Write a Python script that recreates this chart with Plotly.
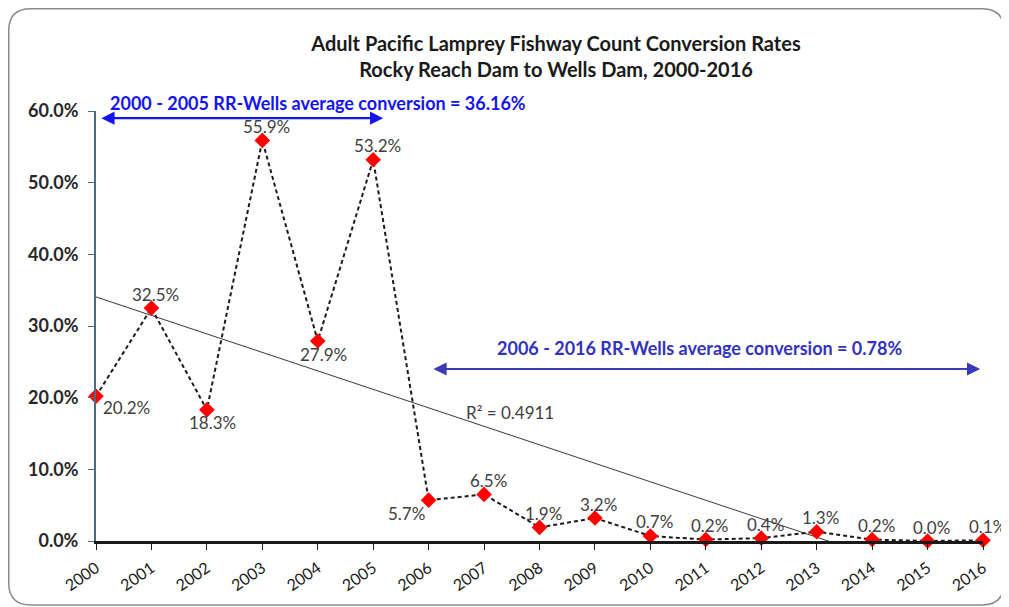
import numpy as np
import plotly.graph_objects as go

years = list(range(2000, 2017))
rates = [20.2, 32.5, 18.3, 55.9, 27.9, 53.2, 5.7, 6.5, 1.9, 3.2, 0.7, 0.2, 0.4, 1.3, 0.2, 0.0, 0.1]
labels = [f"{v:.1f}%" for v in rates]
label_pos = ["bottom right", "top", "bottom", "top", "bottom", "top",
             "bottom left", "top", "top", "top", "top", "top",
             "top", "top", "top", "top", "top"]
y_ticks = [0, 10, 20, 30, 40, 50, 60]
y_tick_text = [f"{t:.1f}%" for t in y_ticks]

title_lines = ["Adult Pacific Lamprey Fishway Count Conversion Rates", "Rocky Reach Dam to Wells Dam, 2000-2016"]
note1 = "2000 - 2005 RR-Wells average conversion = 36.16%"
note2 = "2006 - 2016 RR-Wells average conversion = 0.78%"
r2_text = "R² = 0.4911"

FONT = "Lato, Open Sans, sans-serif"

W, H = 1001, 599
L, R, T, B = 88, 26, 103, 66
PW, PH = W - L - R, H - T - B

def px(xp):
    return (xp - L) / PW

def py(yp):
    return 1 - (yp - T) / PH

x = np.array(years, dtype=float)
slope, intercept = np.polyfit(x, np.array(rates), 1)
trend = slope * x + intercept

fig = go.Figure()
fig.add_trace(go.Scatter(x=years, y=list(trend), mode="lines",
                         line=dict(color="#3a3a3a", width=1), hoverinfo="skip", showlegend=False))
fig.add_trace(go.Scatter(x=years, y=rates, mode="lines+markers",
                         line=dict(color="#1a1a1a", width=2, dash="4px,3px"),
                         marker=dict(symbol="diamond", color="#ff0000", size=12),
                         cliponaxis=False, showlegend=False))

shifts = {"top": (4, 14), "bottom": (6, -13), "bottom right": (30, -11), "bottom left": (-22, -13)}
for yr, v, lab, pos in zip(years, rates, labels, label_pos):
    dx, dy = shifts[pos]
    fig.add_annotation(x=yr, y=v, xref="x", yref="y", text=lab, showarrow=False,
                       xanchor="center", yanchor="middle", xshift=dx, yshift=dy,
                       font=dict(family=FONT, size=17, color="#404040"))

# arrows
fig.add_annotation(x=2005.18, y=59.0, ax=2000.07, ay=59.0, xref="x", yref="y", axref="x", ayref="y",
                   text="", showarrow=True, arrowhead=2, arrowside="end+start", arrowsize=1.2,
                   arrowwidth=2.2, arrowcolor="#1414f0")
fig.add_annotation(x=2015.95, y=24.0, ax=2006.06, ay=24.0, xref="x", yref="y", axref="x", ayref="y",
                   text="", showarrow=True, arrowhead=2, arrowside="end+start", arrowsize=1.2,
                   arrowwidth=2.2, arrowcolor="#3a3ab8")
fig.add_annotation(x=px(310), y=py(95), xref="paper", yref="paper", xanchor="center", yanchor="middle",
                   text=f"<b>{note1}</b>", showarrow=False,
                   font=dict(family=FONT, size=18, color="#1414f0"))
fig.add_annotation(x=2010.88, y=26.9, xref="x", yref="y", text=f"<b>{note2}</b>", showarrow=False,
                   font=dict(family=FONT, size=18, color="#3232c0"))
fig.add_annotation(x=2007.47, y=18.0, xref="x", yref="y", text=r2_text, showarrow=False,
                   font=dict(family=FONT, size=17, color="#404040"))

fig.update_layout(
    width=W, height=H,
    margin=dict(l=L, r=R, t=T, b=B, autoexpand=False),
    paper_bgcolor="white", plot_bgcolor="white",
    title=dict(text=f"<b>{title_lines[0]}<br>{title_lines[1]}</b>", x=548 / W, xanchor="center",
               y=1 - 43 / H, yanchor="middle",
               font=dict(family=FONT, size=20, color="#1a1a1a")),
    font=dict(family=FONT),
    xaxis=dict(range=[2000, 2016], tickmode="array", tickvals=years, ticktext=[str(y) for y in years],
               tickangle=-35, ticks="outside", ticklen=6, tickcolor="#1a1a1a", showgrid=False,
               zeroline=False, showline=True, linecolor="#1a1a1a", linewidth=2.5, automargin=False,
               ticklabelstandoff=3,
               tickfont=dict(family=FONT, size=16, color="#1a1a1a")),
    yaxis=dict(range=[0, 60], tickmode="array", tickvals=y_ticks, ticktext=[f"<b>{t}</b>" for t in y_tick_text],
               ticks="outside", ticklen=6, tickcolor="#4a6a8c", showgrid=False, zeroline=False,
               showline=True, linecolor="#4a6a8c", linewidth=2, automargin=False,
               ticklabelstandoff=6,
               tickfont=dict(family=FONT, size=18, color="#262626")),
)

# rounded outer border (pixel coords converted to paper)
x0p, x1p, y0p, y1p, rad = 0.75, 996, 0.75, 597, 22
def P(a, b):
    return f"{px(a):.5f},{py(b):.5f}"
path = (f"M {P(x0p + rad, y0p)} L {P(x1p - rad, y0p)} Q {P(x1p, y0p)} {P(x1p, y0p + rad)} "
        f"L {P(x1p, y1p - rad)} Q {P(x1p, y1p)} {P(x1p - rad, y1p)} "
        f"L {P(x0p + rad, y1p)} Q {P(x0p, y1p)} {P(x0p, y1p - rad)} "
        f"L {P(x0p, y0p + rad)} Q {P(x0p, y0p)} {P(x0p + rad, y0p)} Z")
fig.add_shape(type="path", xref="paper", yref="paper", path=path, line=dict(color="#8a8a8a", width=1.5))
fig.write_html("out.html")
